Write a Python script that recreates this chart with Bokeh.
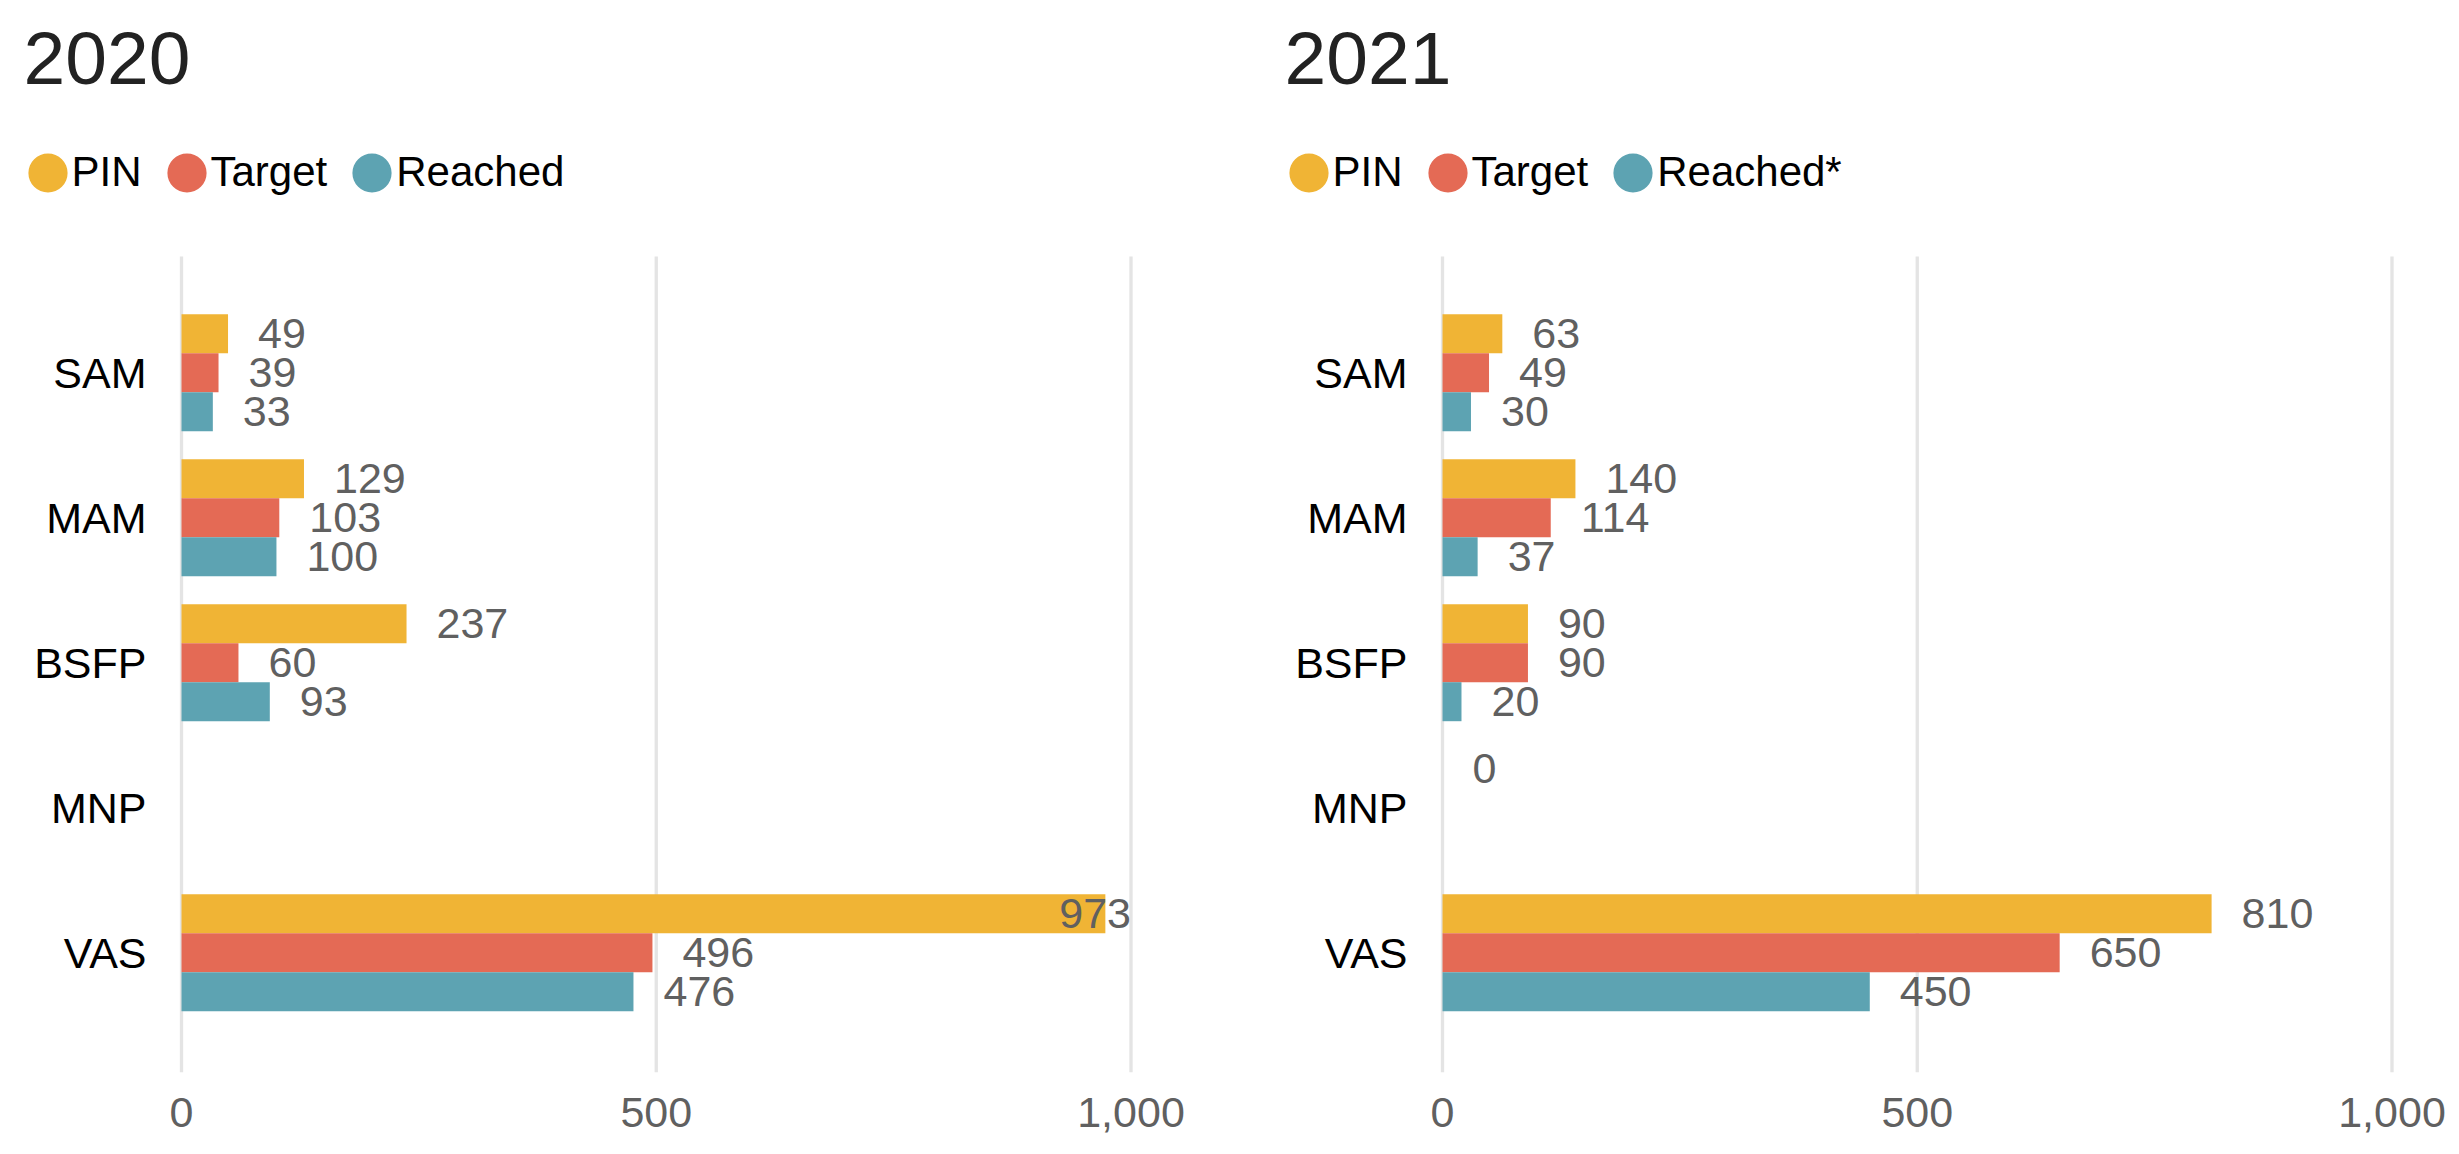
from bokeh.plotting import figure
from bokeh.models import Range1d, Label, Legend, LegendItem, ColumnDataSource
from bokeh.layouts import row
from bokeh.core.properties import value
from bokeh.embed import file_html
from bokeh.resources import INLINE

# ---------------- data ----------------
categories = ["SAM", "MAM", "BSFP", "MNP", "VAS"]

titles = ["2020", "2021"]
series_names_2020 = ["PIN", "Target", "Reached"]
series_names_2021 = ["PIN", "Target", "Reached*"]

pin_2020 = [49, 129, 237, None, 973]
target_2020 = [39, 103, 60, None, 496]
reached_2020 = [33, 100, 93, None, 476]

pin_2021 = [63, 140, 90, 0, 810]
target_2021 = [49, 114, 90, None, 650]
reached_2021 = [30, 37, 20, None, 450]

x_ticks = [0, 500, 1000]
x_tick_labels = ["0", "500", "1,000"]

colors = ["#F0B435", "#E46A55", "#5DA3B2"]

# ---------------- style / layout ----------------
FONT = "Liberation Sans"
FIG_H = 1140
PX_PER_UNIT = 0.9495      # horizontal scale
ZERO_PX = 181             # pixel position of value 0 inside each panel
CAT0_PX, CAT_STEP = 372.2, 145.0   # first category centre / spacing (px)
BAR_H = 0.269
X_MAX = 1000
Y_TOP, Y_BOTTOM = -0.801, 4.824    # extent of the plotting area (category units)
LABEL_ROOM = 110          # data units needed right of a bar for its label
GRAY = "#606060"
KEY = 49                  # legend glyph box (px); circle drawn at 0.8 of it


def make_panel(title, names, series, width):
    p = figure(
        title=None, width=width, height=FIG_H,
        x_range=Range1d(-ZERO_PX / PX_PER_UNIT, (width - ZERO_PX) / PX_PER_UNIT),
        y_range=Range1d((FIG_H - CAT0_PX) / CAT_STEP, -CAT0_PX / CAT_STEP),
        x_axis_type=None, y_axis_type=None, min_border=0,
        output_backend="svg", toolbar_location=None,
    )
    p.outline_line_color = None
    p.background_fill_color = "white"
    p.border_fill_color = "white"
    p.extra_y_ranges = {"offscreen": Range1d(1e6, 1e6 + 1)}

    # vertical grid lines at the x ticks
    p.segment(x0=x_ticks, x1=x_ticks, y0=[Y_TOP] * len(x_ticks),
              y1=[Y_BOTTOM] * len(x_ticks), line_color="#E4E4E4", line_width=3.3)

    # x tick labels
    p.text(x=x_ticks, y=[Y_BOTTOM] * len(x_ticks), text=x_tick_labels,
           y_offset=40, text_align="center", text_baseline="middle",
           text_font=value(FONT), text_font_size=value("43px"), text_color=GRAY)

    # category labels
    p.text(x=[0] * len(categories), y=list(range(len(categories))), text=categories,
           x_offset=-35, text_align="right", text_baseline="middle",
           text_font=value(FONT), text_font_size=value("43px"), text_color="#000000")

    legend_items = []
    for j, (name, vals, col) in enumerate(zip(names, series, colors)):
        off = (j - 1) * BAR_H
        ys = [i + off for i, v in enumerate(vals) if v is not None]
        xs = [v for v in vals if v is not None]
        src = ColumnDataSource(dict(y=ys, right=xs))
        p.hbar(y="y", left=0, right="right", height=BAR_H, source=src,
               fill_color=col, line_color=None)

        # value labels: right of the bar end, or clamped at the axis end
        lx, ly, lt, la, lo = [], [], [], [], []
        for y, v in zip(ys, xs):
            if v + LABEL_ROOM > X_MAX:
                lx.append(X_MAX); la.append("right"); lo.append(0)
            else:
                lx.append(v); la.append("left"); lo.append(30)
            ly.append(y); lt.append(f"{v:,}")
        lsrc = ColumnDataSource(dict(x=lx, y=ly, t=lt, a=la, o=lo))
        p.text(x="x", y="y", text="t", source=lsrc, text_align="a", x_offset="o",
               text_baseline="middle", text_font=value(FONT),
               text_font_size=value("43px"), text_color=GRAY)

        # legend key renderer: same data, mapped to an off-screen range
        key = p.ellipse(x="right", y="y", source=src, width=39, height=39,
                        width_units="screen", height_units="screen",
                        fill_color=col, line_color=None, y_range_name="offscreen")
        legend_items.append(LegendItem(label=name, renderers=[key]))

    legend = Legend(
        items=legend_items, orientation="horizontal",
        location=(47 - KEY / 2, FIG_H - 172 - KEY / 2),
        glyph_width=KEY, glyph_height=KEY, label_standoff=0, spacing=20,
        padding=0, margin=0, border_line_color=None, background_fill_alpha=0,
        label_text_font=FONT, label_text_font_size="42px", label_text_color="#000000",
    )
    p.add_layout(legend, "center")

    p.add_layout(Label(
        x=23, y=FIG_H - 81 + 23, x_units="screen", y_units="screen", text=title,
        text_font=FONT, text_font_size="75px", text_color="#222222",
        text_baseline="alphabetic", text_align="left",
    ))
    return p


p1 = make_panel(titles[0], series_names_2020,
                [pin_2020, target_2020, reached_2020], 1261)
p2 = make_panel(titles[1], series_names_2021,
                [pin_2021, target_2021, reached_2021], 1195)

layout = row(p1, p2, spacing=0)
open("out.html", "w").write(file_html(layout, INLINE))
